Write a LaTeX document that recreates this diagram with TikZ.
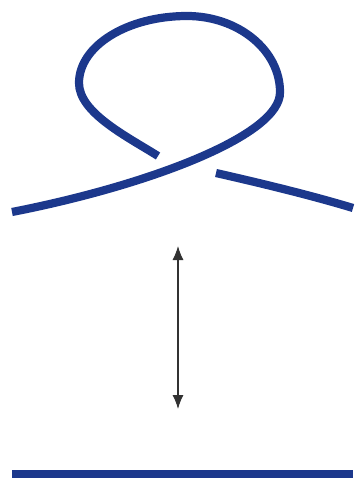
\documentclass[tikz,border=0pt]{standalone}
\usetikzlibrary{arrows.meta}
\definecolor{knotblue}{RGB}{28,56,140}
\definecolor{arrowgray}{RGB}{50,50,50}
\begin{document}
\begin{tikzpicture}[x=1pt,y=-1pt,
  strand/.style={draw=knotblue,line width=8.2pt,line cap=butt},
  movearrow/.style={draw=arrowgray,line width=1.1pt,{Latex[length=14pt,width=11pt]}-{Latex[length=14pt,width=11pt]}}]
\useasboundingbox (0,0) rectangle (358,485);
% loop with over strand
\coordinate (la) at (12,212);
\coordinate (rs) at (280,92);
\coordinate (tp) at (187,16);
\coordinate (ls) at (79,83);
\coordinate (ue) at (158,156);
\coordinate (us) at (216,173);
\coordinate (re) at (353,208);
\draw[strand] (la) .. controls (150,185) and (281,135) .. (rs)
  .. controls (280,50) and (238,16) .. (tp)
  .. controls (127,16) and (79,46) .. (ls)
  .. controls (79,113) and (128,137) .. (ue);
\draw[strand] (us) .. controls (260,183) and (310,195) .. (re);
% arrow
\coordinate (at) at (178,246);
\coordinate (ab) at (178,409);
\draw[movearrow] (at) -- (ab);
% straight strand
\coordinate (bl) at (12,474);
\coordinate (br) at (353,474);
\draw[strand] (bl) -- (br);
\end{tikzpicture}
\end{document}
